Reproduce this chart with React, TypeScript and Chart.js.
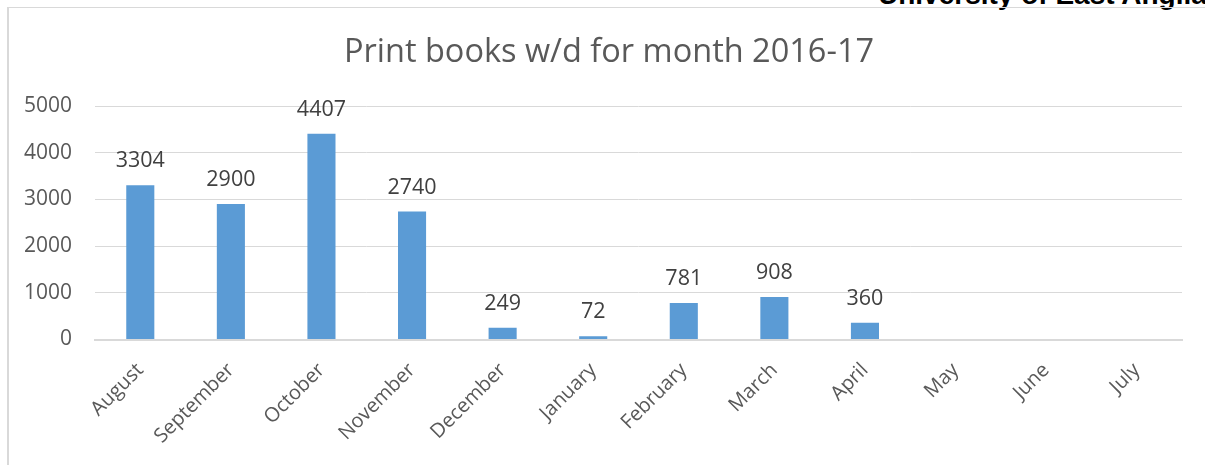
import React, { useEffect, useRef } from "react";
import { Chart, registerables } from "chart.js";

Chart.register(...registerables);

const months = [
  "August", "September", "October", "November", "December", "January",
  "February", "March", "April", "May", "June", "July",
];
const withdrawn: (number | null)[] = [3304, 2900, 4407, 2740, 249, 72, 781, 908, 360, null, null, null];
const yTicks = [0, 1000, 2000, 3000, 4000, 5000];
const titleText = "Print books w/d for month 2016-17";
const headerText = "University of East Anglia";

const FONT = "'Open Sans', 'Noto Sans', sans-serif";

const valueLabels = {
  id: "valueLabels",
  afterDatasetsDraw(chart: any) {
    const ctx = chart.ctx;
    const meta = chart.getDatasetMeta(0);
    ctx.save();
    ctx.font = `21.5px ${FONT}`;
    ctx.fillStyle = "#404040";
    ctx.textAlign = "center";
    ctx.textBaseline = "alphabetic";
    meta.data.forEach((bar: any, i: number) => {
      const v = withdrawn[i];
      if (v === null || v === undefined) return;
      ctx.fillText(String(v), bar.x, bar.y - 18);
    });
    ctx.restore();
  },
};

const chartTitle = {
  id: "chartTitle",
  afterDraw(chart: any) {
    const ctx = chart.ctx;
    ctx.save();
    ctx.font = `32.5px ${FONT}`;
    ctx.fillStyle = "#595959";
    ctx.textAlign = "center";
    ctx.textBaseline = "alphabetic";
    ctx.fillText(titleText, 609, 62);
    ctx.restore();
  },
};

export default function App() {
  const ref = useRef<HTMLCanvasElement | null>(null);

  useEffect(() => {
    if (!ref.current) return;
    const chart = new Chart(ref.current, {
      type: "bar",
      data: {
        labels: months,
        datasets: [
          {
            data: withdrawn,
            backgroundColor: "#5B9BD5",
            borderWidth: 0,
            barPercentage: 0.31,
            categoryPercentage: 1,
          },
        ],
      },
      options: {
        responsive: false,
        animation: false,
        layout: { padding: { left: 0, right: 23, top: 106, bottom: 0 } },
        plugins: {
          legend: { display: false },
          tooltip: { enabled: false },
          title: { display: false },
        },
        scales: {
          x: {
            grid: { display: false },
            border: { display: true, color: "#d9d9d9", width: 2 },
            ticks: {
              color: "#595959",
              font: { family: FONT, size: 20 },
              minRotation: 45,
              maxRotation: 45,
              padding: 11,
              autoSkip: false,
            },
            afterFit(scale: any) {
              scale.height = 125.5;
              scale.paddingLeft = 0;
              scale.paddingRight = 0;
            },
          },
          y: {
            min: 0,
            max: 5000,
            afterBuildTicks(scale: any) {
              scale.ticks = yTicks.map((v) => ({ value: v }));
            },
            grid: { color: "#d9d9d9", lineWidth: 1, drawTicks: false },
            border: { display: false },
            ticks: {
              color: "#595959",
              font: { family: FONT, size: 21 },
              padding: 23,
              callback: (value: any) => String(value),
            },
            afterFit(scale: any) {
              scale.width = 95;
              scale.paddingTop = 0;
              scale.paddingBottom = 0;
            },
          },
        },
      },
      plugins: [valueLabels, chartTitle],
    });
    return () => chart.destroy();
  }, []);

  return (
    <div style={{ position: "fixed", left: 0, top: 0, width: 1205, height: 465, background: "#fff", overflow: "hidden" }}>
      <div
        style={{
          position: "absolute",
          left: 878,
          top: -19,
          fontFamily: "'Liberation Sans', Arial, sans-serif",
          fontWeight: "bold",
          fontSize: 28,
          lineHeight: "28px",
          color: "#000",
          whiteSpace: "nowrap",
        }}
      >
        {headerText}
      </div>
      <div
        style={{
          position: "absolute",
          left: 7,
          top: 7,
          width: 1300,
          height: 600,
          borderLeft: "2px solid #d9d9d9",
          borderTop: "1px solid #d9d9d9",
          boxSizing: "border-box",
        }}
      />
      <canvas ref={ref} width={1205} height={465} style={{ position: "absolute", left: 0, top: 0 }} />
    </div>
  );
}
